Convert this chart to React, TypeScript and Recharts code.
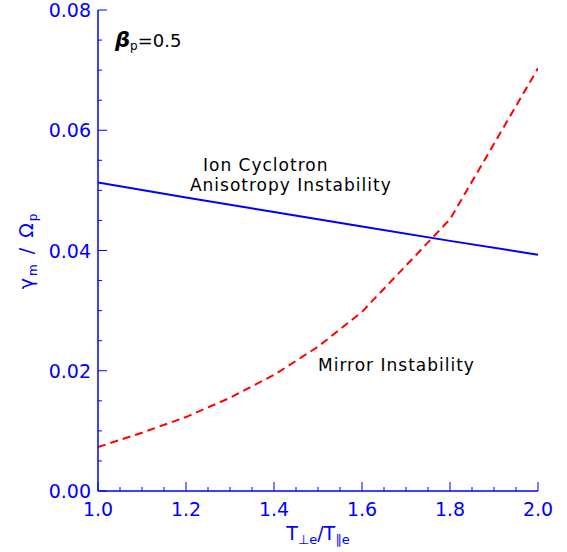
import React from 'react';
import { LineChart, Line, XAxis, YAxis, ReferenceDot } from 'recharts';

// Ion cyclotron anisotropy instability growth rate
const ionT = [1.0, 1.2, 1.4, 1.6, 1.8, 2.0];
const ionGamma = [0.0513, 0.0488, 0.0464, 0.0440, 0.0416, 0.0393];

// Mirror instability growth rate
const mirrorT = [1.0, 1.1, 1.2, 1.3, 1.4, 1.5, 1.6, 1.8, 2.0];
const mirrorGamma = [0.0073, 0.0097, 0.0123, 0.0155, 0.0193, 0.024, 0.0298, 0.0452, 0.0703];

const xTicks = [1.0, 1.05, 1.1, 1.15, 1.2, 1.25, 1.3, 1.35, 1.4, 1.45, 1.5, 1.55, 1.6, 1.65, 1.7, 1.75, 1.8, 1.85, 1.9, 1.95, 2.0];
const yTicks = [0, 0.005, 0.01, 0.015, 0.02, 0.025, 0.03, 0.035, 0.04, 0.045, 0.05, 0.055, 0.06, 0.065, 0.07, 0.075, 0.08];
const xMajorStep = 0.2;
const yMajorStep = 0.02;

const ionData = ionT.map((x, i) => ({ x, y: ionGamma[i] }));
const mirrorData = mirrorT.map((x, i) => ({ x, y: mirrorGamma[i] }));

const AXIS = '#0000ff';
const FONT = '"DejaVu Sans", sans-serif';

const isMajor = (v: number, step: number) => Math.abs(v / step - Math.round(v / step)) < 1e-6;

const makeXTick = (side: 'bottom' | 'top') => (p: any) => {
  const v = p.payload.value;
  const major = isMajor(v - 1, xMajorStep);
  const len = major ? 9 : 4;
  const dir = side === 'bottom' ? -1 : 1;
  return (
    <g>
      <line x1={p.x} y1={p.y} x2={p.x} y2={p.y + dir * len} stroke={AXIS} strokeWidth={1} />
      {major && side === 'bottom' && (
        <text x={p.x} y={p.y + 25} textAnchor="middle" fill={AXIS} fontFamily={FONT} fontSize={19}>
          {v.toFixed(1)}
        </text>
      )}
    </g>
  );
};

const makeYTick = (side: 'left' | 'right') => (p: any) => {
  const v = p.payload.value;
  const major = isMajor(v, yMajorStep);
  const len = major ? 9 : 4;
  const dir = side === 'left' ? 1 : -1;
  return (
    <g>
      <line x1={p.x} y1={p.y} x2={p.x + dir * len} y2={p.y} stroke={AXIS} strokeWidth={1} />
      {major && side === 'left' && (
        <text x={p.x - 7} y={p.y + 7} textAnchor="end" fill={AXIS} fontFamily={FONT} fontSize={19}>
          {v.toFixed(2)}
        </text>
      )}
    </g>
  );
};

const XLabel = (props: any) => {
  const vb = props.viewBox;
  const cx = vb.x + vb.width / 2;
  const y = vb.y + 49;
  return (
    <text x={cx} y={y} textAnchor="middle" fill={AXIS} fontFamily={FONT} fontSize={19}>
      <tspan>T</tspan>
      <tspan fontSize={13} dy={4}>⊥e</tspan>
      <tspan dy={-4}>/T</tspan>
      <tspan fontSize={13} dy={4}>∥e</tspan>
    </text>
  );
};

const YLabel = (props: any) => {
  const vb = props.viewBox;
  const cy = vb.y + vb.height / 2;
  const x = 33;
  return (
    <text
      x={x}
      y={cy}
      textAnchor="middle"
      fill={AXIS}
      fontFamily={FONT}
      fontSize={19}
      letterSpacing={2}
      transform={`rotate(-90, ${x}, ${cy})`}
    >
      <tspan>γ</tspan>
      <tspan fontSize={12} dy={4}>m</tspan>
      <tspan dy={-4}> / Ω</tspan>
      <tspan fontSize={12} dy={4}>p</tspan>
    </text>
  );
};

const annotations = [
  { x: 1.2386, y: 0.05322, text: 'Ion Cyclotron' },
  { x: 1.209, y: 0.04990, text: 'Anisotropy Instability' },
  { x: 1.5, y: 0.0200, text: 'Mirror Instability' },
];

const betaPos = { x: 1.0386, y: 0.07385 };

export default function App() {
  return (
    <div style={{ position: 'absolute', left: 0, top: 0, background: '#fff' }}>
      <LineChart width={567} height={552} margin={{ top: 10, right: 29, left: 0, bottom: 21 }}>
        <XAxis
          xAxisId="b"
          type="number"
          dataKey="x"
          domain={[1, 2]}
          ticks={xTicks}
          interval={0}
          tickSize={0}
          tickMargin={0}
          tickLine={false}
          tick={makeXTick('bottom')}
          axisLine={{ stroke: AXIS, strokeWidth: 1.5 }}
          height={40}
          allowDataOverflow
          label={{ content: XLabel }}
        />
        <XAxis
          xAxisId="t"
          orientation="top"
          type="number"
          dataKey="x"
          domain={[1, 2]}
          ticks={xTicks}
          interval={0}
          tickSize={0}
          tickMargin={0}
          tickLine={false}
          tick={makeXTick('top')}
          axisLine={{ stroke: AXIS, strokeWidth: 1.5 }}
          height={0}
          allowDataOverflow
        />
        <YAxis
          yAxisId="l"
          type="number"
          domain={[0, 0.08]}
          ticks={yTicks}
          interval={0}
          tickSize={0}
          tickMargin={0}
          tickLine={false}
          tick={makeYTick('left')}
          axisLine={{ stroke: AXIS, strokeWidth: 1.5 }}
          width={98}
          allowDataOverflow
          label={{ content: YLabel }}
        />
        <YAxis
          yAxisId="r"
          orientation="right"
          type="number"
          domain={[0, 0.08]}
          ticks={yTicks}
          interval={0}
          tickSize={0}
          tickMargin={0}
          tickLine={false}
          tick={makeYTick('right')}
          axisLine={{ stroke: AXIS, strokeWidth: 1.5 }}
          width={0}
          allowDataOverflow
        />
        <Line
          xAxisId="b"
          yAxisId="l"
          data={ionData}
          dataKey="y"
          type="linear"
          stroke="#0000ff"
          strokeWidth={2}
          dot={false}
          activeDot={false}
          isAnimationActive={false}
        />
        <Line
          xAxisId="b"
          yAxisId="l"
          data={mirrorData}
          dataKey="y"
          type="linear"
          stroke="#ff0000"
          strokeWidth={2}
          strokeDasharray="8 5"
          dot={false}
          activeDot={false}
          isAnimationActive={false}
        />
        {annotations.map((a, i) => (
          <ReferenceDot
            key={i}
            xAxisId="b"
            yAxisId="l"
            x={a.x}
            y={a.y}
            r={0}
            shape={(p: any) => (
              <text x={p.cx} y={p.cy} fill="#000" fontFamily={FONT} fontSize={17} letterSpacing={1}>
                {a.text}
              </text>
            )}
          />
        ))}
        <ReferenceDot
          xAxisId="b"
          yAxisId="l"
          x={betaPos.x}
          y={betaPos.y}
          r={0}
          shape={(p: any) => (
            <text x={p.cx} y={p.cy} fill="#000" fontFamily={FONT} fontSize={18}>
              <tspan fontWeight="bold" fontStyle="italic" fontSize={21}>β</tspan>
              <tspan fontSize={12} dy={3}>p</tspan>
              <tspan dy={-3}>=0.5</tspan>
            </text>
          )}
        />
      </LineChart>
    </div>
  );
}
